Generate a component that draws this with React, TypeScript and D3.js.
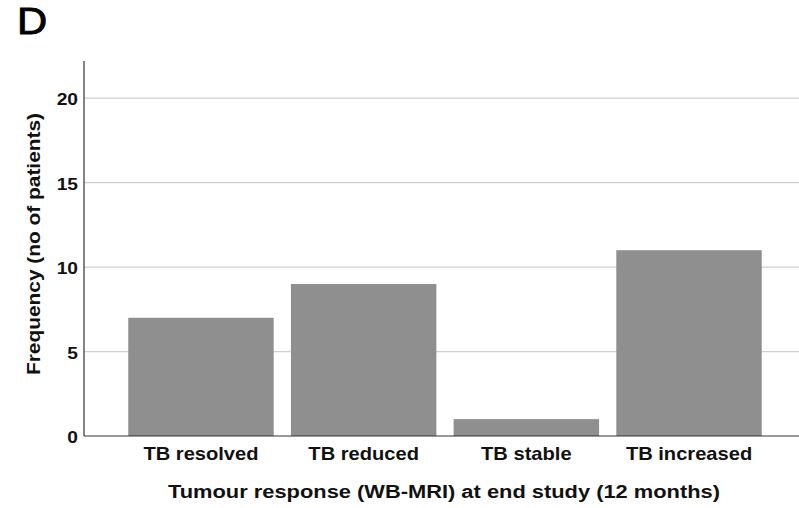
import React from 'react';
import { scaleBand, scaleLinear } from 'd3';

const width = 799;
const height = 508;
const margins = { top: 61, bottom: 72, left: 84, right: 0 };

const categories = ['TB resolved', 'TB reduced', 'TB stable', 'TB increased'];
const frequencies = [7, 9, 1, 11];
const yTicks = [0, 5, 10, 15, 20];

const font = '"Liberation Sans", Arial, Helvetica, sans-serif';
const stretch = 1.13; // the reference is a bit wider than it is tall

export default function App() {
  const baseline = height - margins.bottom; // 436

  const xScale = scaleBand<string>()
    .domain(categories)
    .range([margins.left, 806])
    .paddingInner(0.106)
    .paddingOuter(0.272);

  const yScale = scaleLinear()
    .domain([0, 22.2])
    .range([baseline, margins.top]);

  return (
    <svg
      width={width}
      height={height}
      style={{ position: 'absolute', left: 0, top: 0, background: '#fff' }}
    >
      <text
        transform={`translate(17,34) scale(${stretch},1)`}
        fontFamily={font}
        fontSize={37}
        fill="#000"
        stroke="#000"
        strokeWidth={0.9}
      >
        D
      </text>

      {/* grid */}
      {yTicks.filter((t) => t > 0).map((t) => (
        <line
          key={'g' + t}
          x1={margins.left}
          x2={width}
          y1={yScale(t)}
          y2={yScale(t)}
          stroke="#cfcfcf"
          strokeWidth={1.3}
        />
      ))}

      {/* bars */}
      {categories.map((c, i) => (
        <rect
          key={c}
          x={xScale(c)}
          y={yScale(frequencies[i])}
          width={xScale.bandwidth()}
          height={baseline - yScale(frequencies[i])}
          fill="#8f8f8f"
        />
      ))}

      {/* axes */}
      <line x1={margins.left} x2={margins.left} y1={margins.top} y2={baseline} stroke="#333" strokeWidth={1.2} />
      <line x1={margins.left} x2={width} y1={baseline} y2={baseline} stroke="#333" strokeWidth={1.2} />

      {yTicks.map((t) => (
        <text
          key={'t' + t}
          transform={`translate(78,${yScale(t)}) scale(${stretch},1)`}
          dy="0.42em"
          textAnchor="end"
          fontFamily={font}
          fontWeight="bold"
          fontSize={17}
          fill="#111"
        >
          {t}
        </text>
      ))}

      {categories.map((c) => (
        <text
          key={'l' + c}
          transform={`translate(${(xScale(c) as number) + xScale.bandwidth() / 2},460) scale(${stretch + 0.02},1)`}
          textAnchor="middle"
          fontFamily={font}
          fontWeight="bold"
          fontSize={17.5}
          fill="#111"
        >
          {c}
        </text>
      ))}

      <text
        x={168}
        y={498}
        fontFamily={font}
        fontWeight="bold"
        fontSize={18}
        textLength={552}
        lengthAdjust="spacingAndGlyphs"
        fill="#111"
      >
        Tumour response (WB-MRI) at end study (12 months)
      </text>

      <text
        transform={`translate(40,375) rotate(-90)`}
        fontFamily={font}
        fontWeight="bold"
        fontSize={17.5}
        textLength={262}
        lengthAdjust="spacingAndGlyphs"
        fill="#111"
      >
        Frequency (no of patients)
      </text>
    </svg>
  );
}
